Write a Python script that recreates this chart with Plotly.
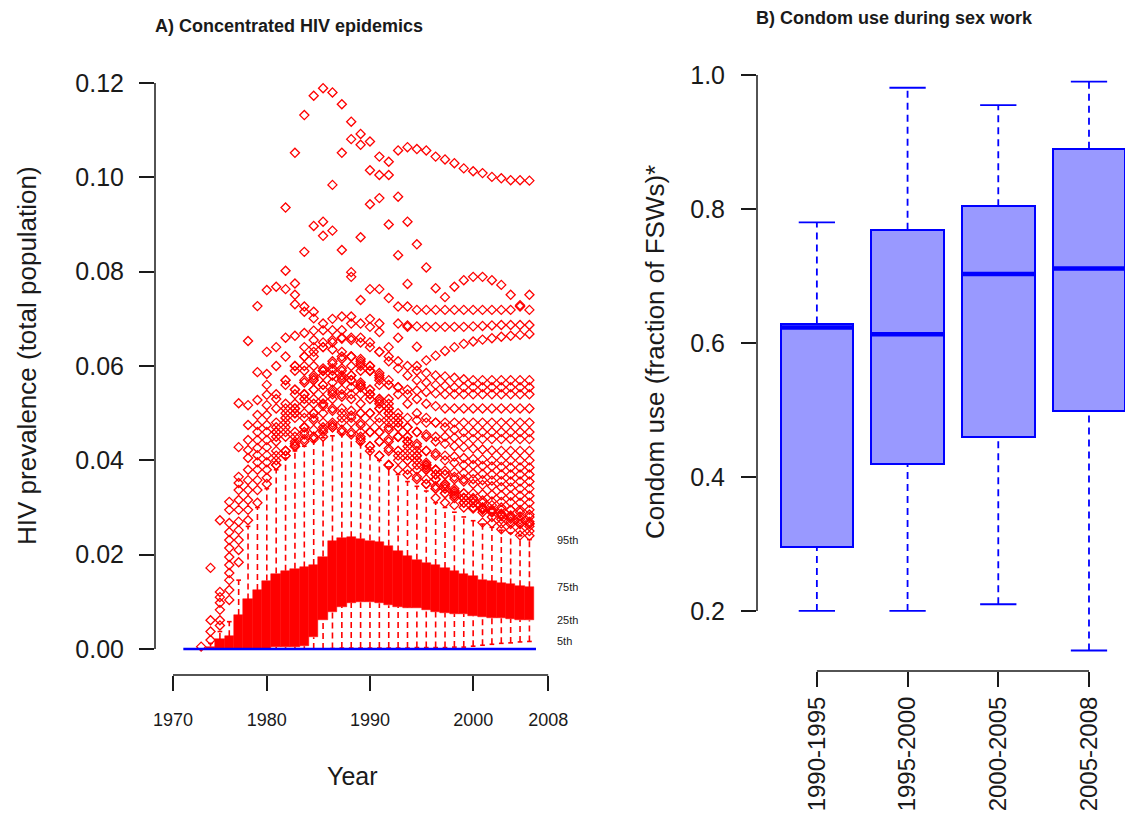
import plotly.graph_objects as go

FONT = "Liberation Sans, Arial, sans-serif"
RED = "#FF0000"
BLUE = "#0000FF"
BOXFILL = "#9999FF"
INK = "#1a1a1a"

# ---------------- Panel A: HIV prevalence, one box per year ----------------
years = list(range(1971, 2008))
p5 = [0.0000, 0.0000, 0.0000, 0.0000, 0.0000, 0.0000, 0.0000, 0.0000, 0.0000, 0.0000,
      0.0000, 0.0000, 0.0000, 0.0000, 0.0000, 0.0001, 0.0002, 0.0002, 0.0002, 0.0002,
      0.0002, 0.0002, 0.0002, 0.0002, 0.0003, 0.0003, 0.0003, 0.0003, 0.0004, 0.0004,
      0.0006, 0.0008, 0.0010, 0.0012, 0.0013, 0.0015, 0.0016]
q1 = [0.0000, 0.0000, 0.0000, 0.0000, 0.0000, 0.0000, 0.0000, 0.0000, 0.0000, 0.0004,
      0.0004, 0.0005, 0.0006, 0.0025, 0.0061, 0.0079, 0.0090, 0.0098, 0.0099, 0.0099,
      0.0097, 0.0093, 0.0090, 0.0088, 0.0087, 0.0083, 0.0079, 0.0077, 0.0075, 0.0074,
      0.0071, 0.0068, 0.0066, 0.0065, 0.0064, 0.0062, 0.0061]
q3 = [0.0000, 0.0000, 0.0005, 0.0021, 0.0027, 0.0072, 0.0105, 0.0125, 0.0145, 0.0160,
      0.0166, 0.0170, 0.0173, 0.0178, 0.0196, 0.0228, 0.0236, 0.0237, 0.0234, 0.0230,
      0.0226, 0.0219, 0.0207, 0.0197, 0.0189, 0.0183, 0.0178, 0.0172, 0.0165, 0.0158,
      0.0154, 0.0147, 0.0144, 0.0140, 0.0137, 0.0133, 0.0131]
p95 = [0.0000, 0.0000, 0.0012, 0.0037, 0.0058, 0.0146, 0.0260, 0.0300, 0.0340, 0.0380,
       0.0405, 0.0420, 0.0430, 0.0440, 0.0448, 0.0452, 0.0455, 0.0452, 0.0435, 0.0418,
       0.0400, 0.0386, 0.0370, 0.0355, 0.0345, 0.0335, 0.0310, 0.0300, 0.0290, 0.0280,
       0.0272, 0.0265, 0.0258, 0.0252, 0.0246, 0.0240, 0.0232]

# outliers of the early years
out_1972 = [0.0005]
out_1973 = [0.0019, 0.0037, 0.0061, 0.0172]
out_1974 = [0.0050, 0.0061, 0.0083, 0.0098, 0.0110, 0.0121, 0.0273]
out_1975 = [0.0104, 0.0125, 0.0146, 0.0161, 0.0178, 0.0195, 0.0214, 0.0231, 0.0248, 0.0267, 0.0295, 0.0312]
out_1976 = [0.0184, 0.0210, 0.0231, 0.0252, 0.0270, 0.0295, 0.0316, 0.0337, 0.0352, 0.0365, 0.0428, 0.0521]
out_1977 = [0.0273, 0.0295, 0.0316, 0.0337, 0.0358, 0.0380, 0.0405, 0.0422, 0.0443, 0.0475, 0.0517, 0.0653]
out_1978 = [0.0310, 0.0337, 0.0358, 0.0380, 0.0396, 0.0411, 0.0426, 0.0443, 0.0460, 0.0475, 0.0496, 0.0528, 0.0587, 0.0727]
out_1979 = [0.0350, 0.0363, 0.0380, 0.0396, 0.0411, 0.0428, 0.0443, 0.0460, 0.0475, 0.0496, 0.0517, 0.0539, 0.0560, 0.0583, 0.0630, 0.0761]

# simulated epidemics that sit above the 95th percentile (values 1980-2007)
band_start = 1980
band_01 = [.051, .056, .060, .062, .064, .065, .0655, .0658, .0655, .065, .064, .063, .062, .061, .060, .059, .0585, .058, .0578, .0575, .0572, .057, .057, .057, .057, .057, .057, .057]
band_02 = [.044, .050, .055, .059, .062, .064, .065, .066, .066, .066, .065, .063, .061, .0595, .058, .057, .0565, .056, .0558, .0555, .0555, .0555, .0555, .0555, .0555, .0555, .0555, .0555]
band_03 = [.053, .057, .060, .062, .063, .064, .0635, .063, .062, .0605, .059, .0575, .056, .0555, .055, .0548, .0545, .0542, .054, .054, .054, .054, .054, .054, .054, .054, .054, .054]
band_04 = [.039, .045, .050, .054, .057, .059, .061, .062, .062, .061, .060, .0585, .057, .0555, .054, .053, .052, .0515, .051, .051, .051, .051, .051, .051, .051, .051, .051, .051]
band_05 = [.054, .057, .059, .060, .060, .0595, .059, .058, .057, .0555, .054, .0525, .051, .050, .049, .0485, .048, .048, .048, .048, .048, .048, .048, .048, .048, .048, .048, .048]
band_06 = [.031, .037, .042, .046, .050, .053, .055, .057, .058, .059, .059, .058, .056, .054, .052, .050, .049, .048, .047, .0465, .046, .046, .046, .046, .046, .046, .046, .046]
band_07 = [.048, .052, .055, .057, .0575, .058, .058, .0575, .057, .056, .054, .052, .050, .048, .047, .046, .0455, .045, .045, .0448, .0446, .0445, .0445, .0445, .0445, .0445, .0445, .0445]
band_08 = [.041, .046, .050, .053, .055, .056, .0565, .057, .057, .0565, .055, .053, .051, .049, .047, .046, .045, .044, .0435, .043, .0428, .0425, .0423, .0421, .042, .042, .042, .042]
band_09 = [.045, .049, .052, .054, .055, .055, .0545, .054, .053, .052, .050, .048, .0465, .045, .044, .043, .042, .0415, .041, .0408, .0405, .0403, .0402, .040, .040, .040, .040, .040]
band_10 = [.034, .039, .043, .047, .050, .052, .053, .0535, .054, .054, .053, .051, .049, .047, .045, .0435, .042, .041, .040, .0395, .039, .039, .0388, .0387, .0386, .0385, .0385, .0385]
band_11 = [.046, .049, .051, .052, .052, .0515, .051, .050, .049, .048, .046, .044, .0425, .041, .040, .039, .0385, .038, .0378, .0375, .0373, .0372, .0371, .037, .037, .037, .037, .037]
band_12 = [.037, .042, .045, .047, .049, .050, .0505, .051, .0505, .050, .048, .046, .044, .042, .041, .040, .039, .038, .037, .0365, .036, .036, .0358, .0357, .0356, .0355, .0355, .0355]
band_13 = [.028, .033, .037, .041, .044, .046, .048, .049, .0495, .050, .050, .049, .047, .045, .043, .041, .0395, .038, .037, .036, .0355, .035, .0348, .0345, .0343, .0342, .034, .034]
band_14 = [.046, .048, .049, .049, .0485, .048, .047, .046, .045, .044, .042, .040, .039, .038, .037, .036, .035, .0345, .034, .0335, .033, .033, .0328, .0327, .0326, .0325, .0325, .0325]
band_15 = [.031, .036, .040, .043, .045, .0465, .0475, .048, .048, .0475, .046, .044, .042, .040, .038, .0365, .035, .034, .033, .0325, .032, .0317, .0315, .0313, .0312, .0311, .031, .031]
band_16 = [.039, .042, .044, .0455, .0465, .047, .047, .0465, .046, .045, .043, .041, .039, .037, .0355, .034, .033, .032, .031, .0305, .030, .0298, .0297, .0296, .0295, .0295, .0295, .0295]
band_17 = [.024, .029, .033, .037, .040, .042, .044, .045, .0455, .046, .046, .046, .0445, .042, .040, .038, .036, .034, .033, .032, .031, .030, .0295, .029, .0285, .0283, .0281, .028]
band_18 = [.040, .042, .0435, .0445, .045, .045, .0445, .044, .043, .0415, .040, .038, .036, .034, .0325, .031, .030, .029, .028, .0275, .0272, .027, .0268, .0267, .0266, .0265, .0265, .0265]
band_19 = [.028, .033, .037, .040, .042, .0435, .0445, .045, .045, .0445, .043, .041, .039, .037, .035, .033, .0315, .030, .029, .028, .0272, .0265, .026, .0257, .0254, .0252, .0251, .025]
band_20 = [.038, .041, .043, .044, .0445, .0445, .044, .043, .042, .040, .038, .036, .034, .032, .0305, .029, .028, .027, .0265, .026, .0255, .025, .0247, .0245, .0243, .0242, .0241, .024]
band_21 = [.042, .047, .051, .054, .057, .059, .0605, .0615, .062, .0615, .060, .057, .053, .049, .045, .042, .039, .037, .035, .034, .033, .032, .031, .0305, .030, .0295, .029, .0285]
band_22 = [.036, .041, .046, .050, .053, .056, .058, .0595, .060, .060, .059, .056, .052, .048, .044, .041, .038, .036, .034, .0325, .031, .030, .029, .028, .0275, .027, .0265, .026]
band_23 = [.047, .051, .054, .0565, .058, .059, .0595, .059, .058, .056, .054, .051, .048, .045, .042, .040, .038, .036, .0345, .033, .032, .031, .030, .0293, .0287, .028, .0275, .027]
band_24 = [.033, .038, .043, .047, .050, .052, .054, .055, .0555, .0555, .055, .053, .050, .047, .044, .041, .039, .037, .035, .0335, .032, .031, .030, .029, .0282, .0276, .027, .0266]

# high-prevalence epidemics (start year, values)
traj_a_start = 1982
traj_a = [0.1052, 0.1132, 0.1173, 0.1189, 0.1180, 0.1155, 0.1118, 0.1092, 0.1076, 0.1044, 0.1033, 0.1057, 0.1064,
          0.1060, 0.1057, 0.1044, 0.1038, 0.1030, 0.1019, 0.1013, 0.1009, 0.1001, 0.0998, 0.0994, 0.0994, 0.0993]
traj_b_start = 1986
traj_b = [0.0984, 0.1052, 0.1081, 0.1069, 0.1015, 0.1005, 0.1005]
traj_d_start = 1983
traj_d = [0.0842, 0.0897, 0.0906, 0.0887, 0.0846, 0.0799, 0.0873, 0.0943, 0.0956, 0.0900, 0.0959, 0.0906, 0.0858,
          0.0809, 0.0765, 0.0746, 0.0768, 0.0782, 0.0789, 0.0789, 0.0782, 0.0772, 0.0751, 0.0729, 0.0751]
traj_f_start = 1989
traj_f = [0.0740, 0.0763, 0.0763, 0.0744, 0.0726, 0.0726, 0.0719, 0.0719, 0.0719, 0.0719, 0.0719, 0.0719, 0.0719,
          0.0719, 0.0719, 0.0719, 0.0719, 0.0726, 0.0719]
traj_h_start = 1993
traj_h = [0.0690, 0.0686, 0.0684, 0.0683, 0.0683, 0.0683, 0.0683, 0.0683, 0.0684, 0.0685, 0.0686, 0.0687, 0.0687, 0.0687, 0.0687]
traj_i_start = 1995
traj_i = [0.0600, 0.0612, 0.0622, 0.0632, 0.0640, 0.0647, 0.0652, 0.0656, 0.0659, 0.0662, 0.0664, 0.0666, 0.0668]

extra_years = [1980, 1980, 1980, 1981, 1981, 1981, 1981, 1981, 1982, 1982, 1982, 1982, 1983, 1983, 1983, 1983,
               1984, 1984, 1984, 1984, 1985, 1985, 1985, 1986, 1986, 1987, 1987, 1988, 1988, 1988, 1989,
               1990, 1990, 1991, 1991, 1992, 1993, 1993, 1994, 1994, 1995]
extra_vals = [0.0768, 0.0640, 0.0600, 0.0936, 0.0802, 0.0763, 0.0660, 0.0620, 0.0775, 0.0751, 0.0731, 0.0664,
              0.0726, 0.0715, 0.0640, 0.0670, 0.0715, 0.0701, 0.0655, 0.0675, 0.0876, 0.0676, 0.0690,
              0.0676, 0.0700, 0.0676, 0.0705, 0.0789, 0.0705, 0.0690, 0.0690, 0.0683, 0.0700, 0.0672, 0.0690,
              0.0640, 0.0835, 0.0660, 0.0774, 0.0683, 0.0641]

year_ticks = [1969, 1979, 1990, 2001, 2009]
year_labels = ["1970", "1980", "1990", "2000", "2008"]
pct_labels = ["95th", "75th", "25th", "5th"]

# ---------------- Panel B: condom use by period ----------------
periods = ["1990-1995", "1995-2000", "2000-2005", "2005-2008"]
cu_low = [0.200, 0.200, 0.210, 0.141]
cu_q1 = [0.296, 0.420, 0.459, 0.499]
cu_med = [0.623, 0.613, 0.703, 0.711]
cu_q3 = [0.629, 0.769, 0.804, 0.890]
cu_high = [0.780, 0.981, 0.955, 0.990]

# ======================================================================
fig = go.Figure()

# ----- Panel A boxes -----
fig.add_trace(go.Bar(x=years, y=[b - a for a, b in zip(q1, q3)], base=q1, width=1.0,
                     marker=dict(color=RED, line=dict(color=RED, width=0.5)),
                     xaxis="x", yaxis="y", hoverinfo="skip", showlegend=False))

wx, wy, sx, sy = [], [], [], []
for yr, lo, a, b, hi in zip(years, p5, q1, q3, p95):
    if hi > b:
        wx += [yr, yr, None]
        wy += [b, hi, None]
    if a > lo:
        wx += [yr, yr, None]
        wy += [lo, a, None]
    if hi > 0:
        sx += [yr - 0.25, yr + 0.25, None, yr - 0.25, yr + 0.25, None]
        sy += [hi, hi, None, lo, lo, None]
fig.add_trace(go.Scatter(x=wx, y=wy, mode="lines", line=dict(color=RED, width=1.6, dash="6px,4px"),
                         xaxis="x", yaxis="y", hoverinfo="skip", showlegend=False))
fig.add_trace(go.Scatter(x=sx, y=sy, mode="lines", line=dict(color=RED, width=1.6),
                         xaxis="x", yaxis="y", hoverinfo="skip", showlegend=False))

# ----- Panel A outliers -----
ox, oy = [], []
early = {1972: out_1972, 1973: out_1973, 1974: out_1974, 1975: out_1975,
         1976: out_1976, 1977: out_1977, 1978: out_1978, 1979: out_1979}
for yr, vals in early.items():
    ox += [yr] * len(vals)
    oy += vals


def add_traj(start, vals):
    for i, v in enumerate(vals):
        yr = start + i
        if v > p95[years.index(yr)]:
            ox.append(yr)
            oy.append(v)


for tr in [band_01, band_02, band_03, band_04, band_05, band_06, band_07, band_08, band_09, band_10,
           band_11, band_12, band_13, band_14, band_15, band_16, band_17, band_18, band_19, band_20,
           band_21, band_22, band_23, band_24]:
    add_traj(band_start, tr)
for st, tr in [(traj_a_start, traj_a), (traj_b_start, traj_b), (traj_d_start, traj_d),
               (traj_f_start, traj_f), (traj_h_start, traj_h), (traj_i_start, traj_i)]:
    add_traj(st, tr)
ox += extra_years
oy += extra_vals

fig.add_trace(go.Scatter(x=ox, y=oy, mode="markers",
                         marker=dict(symbol="diamond-open", size=7, color=RED, line=dict(color=RED, width=1.3)),
                         xaxis="x", yaxis="y", hoverinfo="skip", showlegend=False, cliponaxis=False))

# ----- Panel B boxes -----
pos = [1, 2, 3, 4]
fig.add_trace(go.Bar(x=pos, y=[b - a for a, b in zip(cu_q1, cu_q3)], base=cu_q1, width=0.8,
                     marker=dict(color=BOXFILL, line=dict(color=BLUE, width=2)),
                     xaxis="x2", yaxis="y2", hoverinfo="skip", showlegend=False))
bwx, bwy, bsx, bsy, mx, my = [], [], [], [], [], []
for p, lo, a, m, b, hi in zip(pos, cu_low, cu_q1, cu_med, cu_q3, cu_high):
    bwx += [p, p, None, p, p, None]
    bwy += [b, hi, None, lo, a, None]
    bsx += [p - 0.2, p + 0.2, None, p - 0.2, p + 0.2, None]
    bsy += [hi, hi, None, lo, lo, None]
    mx += [p - 0.4, p + 0.4, None]
    my += [m, m, None]
fig.add_trace(go.Scatter(x=bwx, y=bwy, mode="lines", line=dict(color=BLUE, width=1.8, dash="7px,5px"),
                         xaxis="x2", yaxis="y2", hoverinfo="skip", showlegend=False))
fig.add_trace(go.Scatter(x=bsx, y=bsy, mode="lines", line=dict(color=BLUE, width=1.8),
                         xaxis="x2", yaxis="y2", hoverinfo="skip", showlegend=False))
fig.add_trace(go.Scatter(x=mx, y=my, mode="lines", line=dict(color=BLUE, width=4.5),
                         xaxis="x2", yaxis="y2", hoverinfo="skip", showlegend=False))

# ----- layout -----
W, H = 1125, 823
tickfont = dict(family=FONT, size=25, color=INK)
common = dict(showgrid=False, zeroline=False, showline=False, ticks="outside", ticklen=15,
              tickwidth=1.5, tickcolor=INK, fixedrange=True, automargin=False)

fig.update_layout(
    width=W, height=H, autosize=False, margin=dict(l=0, r=0, t=0, b=0, pad=0),
    paper_bgcolor="white", plot_bgcolor="white", showlegend=False,
    font=dict(family=FONT, color=INK), bargap=0,
    xaxis=dict(domain=[155 / W, 560 / W], range=[1967.08, 2010.26], tickvals=year_ticks, ticktext=year_labels,
               tickfont=dict(family=FONT, size=18, color=INK), ticklabelstandoff=13, anchor="y", **common),
    yaxis=dict(domain=[1 - 675 / H, 1 - 60 / H], range=[-0.00551, 0.12488],
               tickvals=[0, 0.02, 0.04, 0.06, 0.08, 0.10, 0.12], tickformat=".2f",
               tickfont=tickfont, ticklabelstandoff=10, anchor="x", **common),
    xaxis2=dict(domain=[757 / W, 1.0], range=[0.34, 4.397], tickvals=pos, ticktext=periods, tickangle=-90,
                tickfont=dict(family=FONT, size=24, color=INK), ticklabelstandoff=0, anchor="y2", **common),
    yaxis2=dict(domain=[1 - 671 / H, 1 - 60 / H], range=[0.1104, 1.0224],
                tickvals=[0.2, 0.4, 0.6, 0.8, 1.0], tickformat=".1f",
                tickfont=tickfont, ticklabelstandoff=11, anchor="x2", **common),
)

axis_line = dict(color=INK, width=1.5)
fig.add_shape(type="line", xref="x domain", yref="y", x0=0, x1=0, y0=0, y1=0.12, line=axis_line)
fig.add_shape(type="line", xref="x", yref="y domain", x0=year_ticks[0], x1=year_ticks[-1], y0=0, y1=0, line=axis_line)
fig.add_shape(type="line", xref="x2 domain", yref="y2", x0=0, x1=0, y0=0.2, y1=1.0, line=axis_line)
fig.add_shape(type="line", xref="x2", yref="y2 domain", x0=pos[0], x1=pos[-1], y0=0, y1=0, line=axis_line)
# zero reference line in panel A
fig.add_shape(type="line", xref="x", yref="y", x0=years[0] - 0.9, x1=years[-1] + 0.7, y0=0, y1=0,
              line=dict(color=BLUE, width=2.5), layer="above")

ann = [
    dict(text="<b>A) Concentrated HIV epidemics</b>", x=289 / W, y=1 - 26 / H, font=dict(size=18)),
    dict(text="<b>B) Condom use during sex work</b>", x=894 / W, y=1 - 18 / H, font=dict(size=18)),
    dict(text="HIV prevalence (total population)", x=27 / W, y=1 - 356 / H, textangle=-90, font=dict(size=26)),
    dict(text="Condom use (fraction of FSWs)*", x=655 / W, y=1 - 352 / H, textangle=-90, font=dict(size=26)),
    dict(text="Year", x=352 / W, y=1 - 776 / H, font=dict(size=25)),
]
for a in ann:
    a.update(xref="paper", yref="paper", showarrow=False, xanchor="center", yanchor="middle")
    a["font"].update(family=FONT, color=INK)
    fig.add_annotation(**a)

for lab, val in zip(pct_labels, [p95[-1], q3[-1], q1[-1], p5[-1]]):
    fig.add_annotation(text=lab, x=555 / W, xref="paper", y=val, yref="y", showarrow=False,
                       xanchor="left", yanchor="middle", font=dict(family=FONT, size=11, color=INK))

fig.write_html("out.html", config={"displayModeBar": False, "responsive": False},
               post_script="document.body.style.margin='0';document.body.style.overflow='hidden';")
